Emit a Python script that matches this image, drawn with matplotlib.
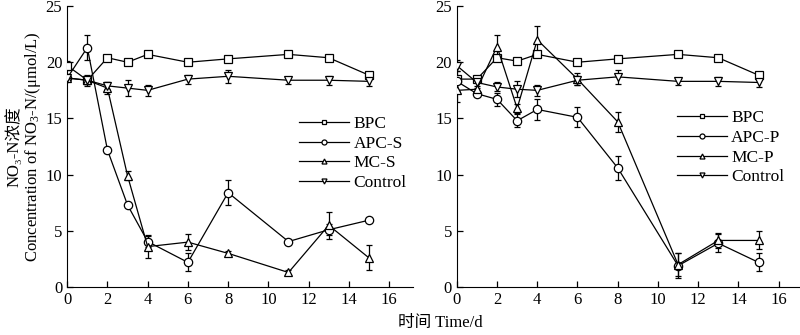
import matplotlib
matplotlib.use("Agg")
import matplotlib.pyplot as plt

plt.rcParams["font.family"] = ["Liberation Serif", "Noto Sans CJK SC"]
plt.rcParams["mathtext.fontset"] = "custom"
plt.rcParams["mathtext.rm"] = "Liberation Serif"
plt.rcParams["mathtext.it"] = "Liberation Serif:italic"

# sampling days
days = [0, 1, 2, 3, 4, 6, 8, 11, 13, 15]

# left panel
bpc_s = [19.7, 18.4, 20.4, 20.0, 20.7, 20.0, 20.3, 20.7, 20.4, 18.85]
bpc_s_err = [0.4, 0.3, 0.2, 0.2, 0.2, 0.2, 0.2, 0.2, 0.2, 0.2]
apc_s = [18.6, 21.3, 12.2, 7.3, 4.05, 2.2, 8.4, 4.05, 5.1, 5.95]
apc_s_err = [0.3, 1.1, 0.3, 0.2, 0.5, 0.8, 1.1, 0.2, 0.5, 0.2]
mc_s = [18.6, 18.4, 17.7, 9.9, 3.6, 4.0, 3.0, 1.3, 5.5, 2.6]
mc_s_err = [0.3, 0.3, 0.5, 0.4, 1.0, 0.7, 0.2, 0.2, 1.2, 1.1]
ctrl_s = [18.6, 18.4, 17.9, 17.7, 17.5, 18.5, 18.75, 18.4, 18.4, 18.3]
ctrl_s_err = [0.3, 0.5, 0.3, 0.7, 0.5, 0.4, 0.6, 0.3, 0.4, 0.4]

# right panel
bpc_p = [18.5, 18.5, 20.4, 20.1, 20.7, 20.0, 20.3, 20.7, 20.4, 18.85]
bpc_p_err = [0.3, 0.3, 0.2, 0.2, 0.2, 0.2, 0.2, 0.2, 0.2, 0.2]
apc_p = [18.3, 17.2, 16.7, 14.8, 15.8, 15.1, 10.6, 1.9, 3.9, 2.2]
apc_p_err = [0.9, 0.2, 0.6, 0.6, 0.9, 0.9, 1.1, 1.1, 0.8, 0.8]
mc_p = [17.5, 17.6, 21.4, 15.9, 22.0, 18.5, 14.7, 2.0, 4.15, 4.15]
mc_p_err = [1.0, 0.3, 1.0, 0.4, 1.2, 0.5, 0.9, 1.0, 0.7, 0.8]
ctrl_p = [19.7, 18.2, 17.8, 17.6, 17.5, 18.4, 18.7, 18.3, 18.3, 18.2]
ctrl_p_err = [0.5, 0.5, 0.4, 0.7, 0.5, 0.4, 0.6, 0.3, 0.4, 0.4]

markers = ["s", "o", "^", "v"]
labels_s = ["BPC", "APC-S", "MC-S", "Control"]
labels_p = ["BPC", "APC-P", "MC-P", "Control"]

fig = plt.figure(figsize=(8, 3.35), dpi=100)
ax1 = fig.add_axes([0.084, 0.143, 0.4325, 0.839])
ax2 = fig.add_axes([0.571, 0.143, 0.4325, 0.839])


def draw(ax, series, errs, labels, leg_xy):
    handles = []
    for vals, err, mk, lab in zip(series, errs, markers, labels):
        ax.errorbar(days, vals, yerr=err, fmt="none", ecolor="black",
                    elinewidth=0.9, capsize=2.5, capthick=0.9, zorder=2)
        h, = ax.plot(days, vals, color="black", lw=0.9, marker=mk,
                     markersize=6, markerfacecolor="white",
                     markeredgecolor="black", markeredgewidth=0.9,
                     label=lab, zorder=3)
        handles.append(h)
    ax.set_xlim(0, 17.2)
    ax.set_ylim(0, 25)
    ax.set_xticks(range(0, 17, 2))
    ax.set_yticks(range(0, 26, 5))
    ax.spines["top"].set_visible(False)
    ax.spines["right"].set_visible(False)
    ax.tick_params(direction="in", length=4, width=0.9, labelsize=12)
    leg = ax.legend(handles=handles, loc="upper left", bbox_to_anchor=leg_xy,
                    frameon=False, fontsize=12.5, handlelength=2.9,
                    handletextpad=0.25, labelspacing=0.2, borderpad=0,
                    markerscale=0.6)
    return leg


draw(ax1, [bpc_s, apc_s, mc_s, ctrl_s],
     [bpc_s_err, apc_s_err, mc_s_err, ctrl_s_err], labels_s, (0.645, 0.64))
draw(ax2, [bpc_p, apc_p, mc_p, ctrl_p],
     [bpc_p_err, apc_p_err, mc_p_err, ctrl_p_err], labels_p, (0.61, 0.66))

# two-line y label
fig.text(14 / 800, 0.563, "NO\u2083-N浓度", rotation=90,
         ha="center", va="center", fontsize=12)
fig.text(33 / 800, 0.563, "Concentration of NO$_3$-N/(μmol/L)", rotation=90,
         ha="center", va="center", fontsize=12)
fig.text(0.55, 0.035, "时间 Time/d", ha="center", va="center", fontsize=12)

fig.savefig("out.png", dpi=100)
